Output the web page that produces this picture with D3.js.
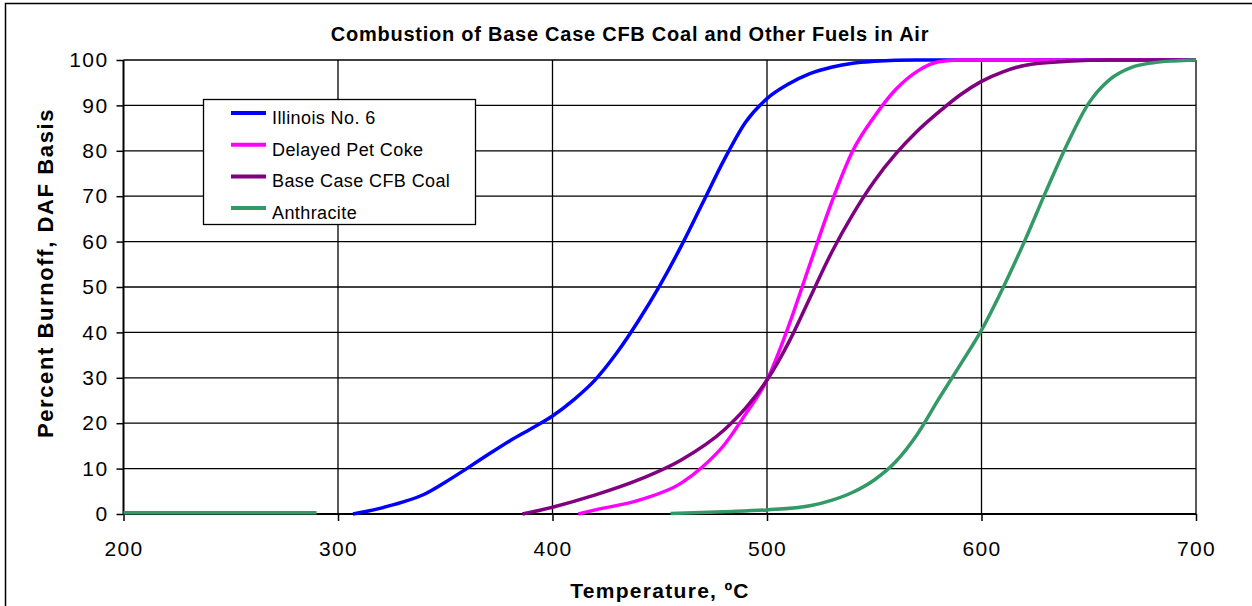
<!DOCTYPE html>
<html>
<head>
<meta charset="utf-8">
<script src="https://cdn.jsdelivr.net/npm/d3@7"></script>
<style>
  body { margin: 0; background: #fff; }
  svg text { font-family: Arial, "Liberation Sans", sans-serif; fill: #000; }
</style>
</head>
<body>
<div id="chart"></div>
<script>
// 数据：温度 (ºC) 与燃尽百分比
const illinoisT = [307, 320, 330, 340, 350, 360, 370, 380, 390, 400, 410, 420, 430, 440, 450, 460, 470, 480, 490, 500, 510, 520, 530, 540, 550, 570, 700];
const illinoisP = [0, 1.3, 2.6, 4.3, 7, 10, 13.1, 16.1, 18.8, 21.6, 25.2, 29.6, 35.5, 42.5, 50.3, 59, 68.5, 78, 86.3, 91.5, 94.7, 97, 98.4, 99.3, 99.7, 100, 100];

const petCokeT = [412, 420, 440, 460, 470, 480, 490, 500, 510, 520, 530, 540, 550, 560, 570, 580, 590, 700];
const petCokeP = [0, 0.9, 3, 6.8, 10.4, 15.2, 22, 29.5, 41.3, 55, 68.5, 80, 87.5, 93.5, 97.5, 99.6, 100, 100];

const cfbT = [386, 400, 420, 440, 460, 480, 490, 500, 510, 520, 530, 540, 550, 560, 570, 580, 590, 600, 610, 620, 640, 660, 700];
const cfbP = [0, 1.5, 4.2, 7.5, 11.9, 18.5, 23.3, 29.5, 37.7, 47.6, 57.5, 66, 73.3, 79.3, 84.3, 88.5, 92.3, 95.3, 97.4, 98.8, 99.7, 100, 100];

// 无烟煤：200–290 段为 0，之后数据从 455 开始
const anthraciteT = [200, 290, null, 455, 480, 500, 520, 530, 540, 550, 560, 570, 580, 590, 600, 610, 620, 630, 640, 650, 660, 670, 680, 690, 700];
const anthraciteP = [0.3, 0.3, null, 0.1, 0.5, 0.9, 1.8, 3, 4.8, 7.5, 11.5, 17.5, 25.3, 32.8, 40.5, 49.8, 60, 71, 81.5, 90.5, 95.8, 98.4, 99.4, 99.8, 100];

const series = [
    { name: 'Illinois No. 6', color: '#0000FF', t: illinoisT, p: illinoisP },
    { name: 'Delayed Pet Coke', color: '#FF00FF', t: petCokeT, p: petCokeP },
    { name: 'Base Case CFB Coal', color: '#800080', t: cfbT, p: cfbP },
    { name: 'Anthracite', color: '#339966', t: anthraciteT, p: anthraciteP }
];

const xTicks = [200, 300, 400, 500, 600, 700];
const yTicks = [0, 10, 20, 30, 40, 50, 60, 70, 80, 90, 100];

const width = 1252;
const height = 606;
const margin = { top: 60, right: 56, bottom: 92, left: 123.5 };

const svg = d3.select('#chart')
    .append('svg')
    .attr('width', width)
    .attr('height', height);

// 外框
svg.append('rect')
    .attr('x', 5.5).attr('y', 3.5)
    .attr('width', 1260).attr('height', 640)
    .attr('fill', 'none')
    .attr('stroke', '#000')
    .attr('stroke-width', 1.5);

const xScale = d3.scaleLinear()
    .domain([200, 700])
    .range([margin.left, width - margin.right]);

const yScale = d3.scaleLinear()
    .domain([0, 100])
    .range([height - margin.bottom, margin.top]);

// 网格线
const grid = svg.append('g').attr('class', 'grid');
grid.selectAll('line.h')
    .data(yTicks.filter(d => d > 0))
    .enter()
    .append('line')
    .attr('x1', xScale(200)).attr('x2', xScale(700))
    .attr('y1', d => yScale(d)).attr('y2', d => yScale(d))
    .attr('stroke', '#000')
    .attr('stroke-width', 1.3);
grid.selectAll('line.v')
    .data(xTicks.filter(d => d > 200))
    .enter()
    .append('line')
    .attr('x1', d => xScale(d)).attr('x2', d => xScale(d))
    .attr('y1', yScale(0)).attr('y2', yScale(100))
    .attr('stroke', '#000')
    .attr('stroke-width', 1.3);

// 坐标轴
const xAxis = svg.append('g')
    .attr('transform', `translate(0,${yScale(0)})`)
    .call(d3.axisBottom(xScale).tickValues(xTicks).tickSize(7).tickPadding(20).tickFormat(d3.format('d')));
const yAxis = svg.append('g')
    .attr('transform', `translate(${xScale(200)},0)`)
    .call(d3.axisLeft(yScale).tickValues(yTicks).tickSize(7).tickPadding(8).tickFormat(d3.format('d')));

[xAxis, yAxis].forEach(ax => {
    ax.select('.domain').attr('stroke', '#000').attr('stroke-width', 2);
    ax.selectAll('.tick line').attr('stroke', '#000').attr('stroke-width', 1.5);
    ax.selectAll('.tick text')
        .attr('font-size', 21)
        .attr('letter-spacing', 1.4)
        .attr('font-family', 'Arial, "Liberation Sans", sans-serif')
        .attr('fill', '#000');
});
xAxis.select('.domain').attr('d', `M${xScale(200)},0H${xScale(700)}`);
yAxis.select('.domain').attr('d', `M0,${yScale(0)}V${yScale(100)}`);

// 曲线
const line = d3.line()
    .defined(d => d[0] !== null)
    .x(d => xScale(d[0]))
    .y(d => yScale(d[1]))
    .curve(d3.curveMonotoneX);

const lines = svg.append('g').attr('class', 'lines');
series.forEach(s => {
    const pts = s.t.map((t, i) => [t, s.p[i]]);
    lines.append('path')
        .datum(pts)
        .attr('d', line)
        .attr('fill', 'none')
        .attr('stroke', s.color)
        .attr('stroke-width', 3.5)
        .attr('stroke-linejoin', 'round');
});

// 标题
svg.append('text')
    .attr('x', 630)
    .attr('y', 41)
    .attr('text-anchor', 'middle')
    .attr('font-size', 20)
    .attr('letter-spacing', 0.75)
    .attr('font-weight', 'bold')
    .text('Combustion of Base Case CFB Coal and Other Fuels in Air');

svg.append('text')
    .attr('x', 660)
    .attr('y', 598)
    .attr('text-anchor', 'middle')
    .attr('font-size', 21)
    .attr('letter-spacing', 1.3)
    .attr('font-weight', 'bold')
    .text('Temperature, ºC');

svg.append('text')
    .attr('transform', `translate(53,${(yScale(0) + yScale(100)) / 2 - 14}) rotate(-90)`)
    .attr('text-anchor', 'middle')
    .attr('font-size', 22)
    .attr('letter-spacing', 1.6)
    .attr('font-weight', 'bold')
    .text('Percent Burnoff, DAF Basis');

// 图例
const legend = svg.append('g').attr('class', 'legend');
legend.append('rect')
    .attr('x', 203.5).attr('y', 99.5)
    .attr('width', 272).attr('height', 125)
    .attr('fill', '#fff')
    .attr('stroke', '#000')
    .attr('stroke-width', 1.3);
series.forEach((s, i) => {
    const y = 113 + i * 31.7;
    legend.append('line')
        .attr('x1', 231).attr('x2', 266)
        .attr('y1', y).attr('y2', y)
        .attr('stroke', s.color)
        .attr('stroke-width', 4);
    legend.append('text')
        .attr('x', 272)
        .attr('y', y + 11)
        .attr('font-size', 18)
        .attr('letter-spacing', 0.4)
        .text(s.name);
});
</script>
</body>
</html>
